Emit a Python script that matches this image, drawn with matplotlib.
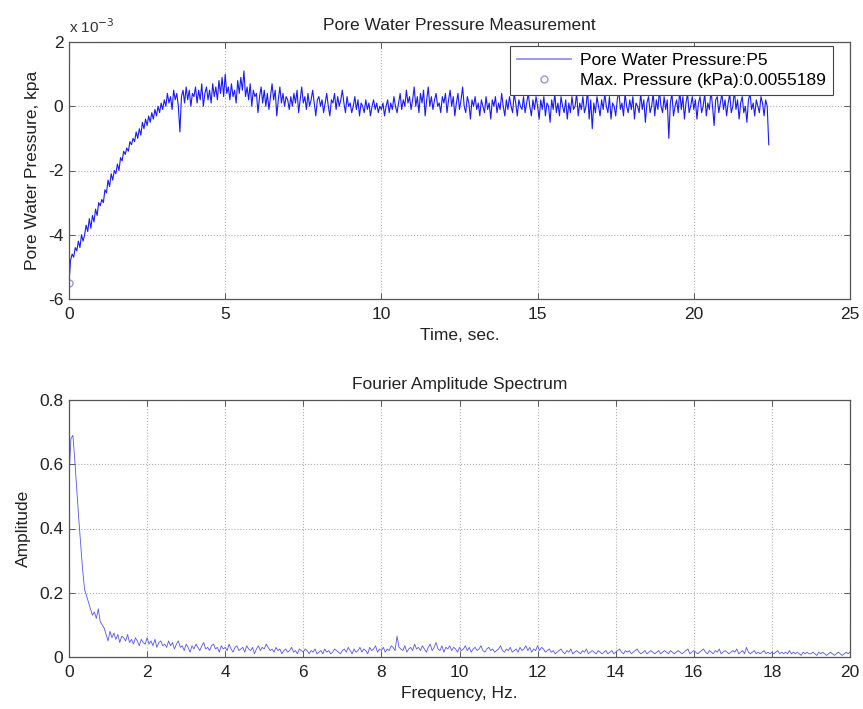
import numpy as np
import matplotlib
matplotlib.use("Agg")
import matplotlib.pyplot as plt
from matplotlib.ticker import FuncFormatter, MultipleLocator

plt.rcParams['font.family'] = ['Liberation Sans', 'DejaVu Sans']

# ---- data ----
dt = 0.05  # sample spacing, s
# pore water pressure, units of 1e-4 kPa
pressure_e4 = [
    -55, -48, -46, -47, -44, -45, -42, -44, -40, -42, -40, -37, -39, -35, -38, -34, -36, -32, -34, -30,
    -31, -29, -30, -26, -27, -23, -25, -21, -23, -20, -21, -18, -20, -16, -17, -14, -15, -13, -14, -11,
    -12, -10, -11, -8, -10, -7, -9, -5, -7, -4, -6, -3, -5, -2, -4, -1, -3, 0, -2, 1,
    -1, 2, 0, 4, 1, 3, -1, 5, 2, 4, 0, -8, 3, 5, 1, 6, 2, 5, 0, 4,
    3, 6, 1, 5, 2, 7, 0, 4, 6, 2, 5, 1, 7, 3, 6, 2, 8, 4, 9, 3,
    10, 4, 6, 2, 7, 3, 5, 1, 8, 4, 9, 5, 11, 3, 6, 2, 7, 0, 5, 3,
    4, -2, 3, 6, 1, 5, 0, 4, -1, 3, 7, 2, 5, -3, 2, 6, 1, 4, 0, 3,
    2, -1, 3, 0, 4, 1, 5, -2, 2, 6, 1, 3, -1, 4, 0, 2, 5, 1, -3, 2,
    3, 0, 2, -2, 1, 4, 0, -3, 2, 1, 4, -1, 3, 0, 2, 5, 1, -2, 3, 0,
    1, -2, 0, 3, -1, 2, -3, 1, 0, -2, 2, -1, 1, -3, 0, 2, -1, 1, -2, 0,
    -1, 1, -3, 0, 2, -2, 1, -1, 3, 0, -2, 1, 4, -1, 2, 0, 5, 1, 3, -1,
    2, 6, 0, 3, -2, 4, 1, 5, -3, 2, 6, 0, 3, -1, 2, 4, 0, 1, -2, 3,
    1, 4, -2, 2, 5, 0, 3, -3, 1, 4, -1, 2, 6, 0, -2, 3, 1, -4, 2, 0,
    3, -1, 1, -3, 2, 0, -2, 3, -1, 1, -4, 2, 0, 3, -2, 1, -1, 4, 0, -3,
    2, -1, 3, 0, -2, 4, 1, -3, 2, 0, -1, 3, -2, 1, 4, 0, -3, 2, -1, 3,
    0, -4, 2, -1, 3, -3, 1, 0, -5, 2, -1, 4, -2, 1, -3, 3, 0, -2, 2, -4,
    1, -2, 3, -1, 0, 4, -3, 1, -1, 3, -2, 0, 5, -4, 2, -7, 1, -2, 3, 0,
    -3, 2, -1, 4, 0, -2, 3, -4, 1, 0, -3, 2, 5, -1, 1, -3, 4, 0, -2, 2,
    -1, 3, -4, 1, 0, -2, 4, -1, 2, -5, 1, 3, -2, 0, 4, -3, 2, -1, 5, 0,
    -2, 3, -1, 2, -10, 1, 4, -3, 0, 2, -2, 5, -1, 3, -4, 1, 4, -2, 0, 3,
    -1, 2, -4, 1, 3, -2, 0, 4, -3, 1, -1, 5, 0, -6, 2, 3, -2, 1, 4, -1,
    2, -3, 1, 4, -2, 0, 5, -1, 2, -4, 1, 3, -2, 0, -5, 2, 4, -1, 1, -3,
    2, 0, -2, 3, 1, -3, 2, 0, -12,
]
df = 0.05  # frequency spacing, Hz
# Fourier amplitude, units of 1e-3
amplitude_e3 = [
    560, 680, 690, 610, 520, 430, 350, 270, 210, 190, 170, 150, 130, 140, 120, 150, 110, 100, 90, 70,
    50, 80, 60, 75, 55, 70, 45, 65, 60, 50, 70, 45, 55, 40, 60, 50, 35, 55, 45, 40,
    60, 40, 50, 35, 55, 30, 45, 50, 35, 40, 30, 50, 35, 45, 25, 40, 50, 30, 35, 20,
    40, 30, 15, 35, 25, 40, 30, 20, 35, 45, 25, 30, 20, 35, 40, 25, 30, 15, 35, 25,
    30, 20, 40, 25, 15, 30, 35, 20, 25, 30, 15, 35, 25, 20, 30, 10, 25, 35, 20, 30,
    25, 40, 30, 20, 25, 15, 30, 20, 25, 10, 20, 25, 15, 20, 30, 15, 20, 10, 25, 20,
    15, 25, 20, 10, 20, 15, 25, 10, 15, 20, 10, 25, 15, 20, 10, 15, 25, 20, 15, 10,
    20, 25, 15, 30, 20, 10, 25, 15, 20, 30, 15, 25, 20, 10, 30, 20, 25, 35, 15, 25,
    20, 30, 15, 25, 20, 35, 30, 20, 65, 30, 25, 20, 35, 15, 25, 30, 20, 40, 25, 30,
    20, 35, 25, 15, 30, 40, 20, 30, 45, 25, 20, 35, 15, 30, 25, 35, 20, 30, 25, 15,
    30, 20, 25, 35, 20, 30, 15, 25, 30, 20, 25, 35, 20, 15, 25, 30, 20, 25, 15, 20,
    25, 35, 20, 15, 25, 20, 30, 15, 20, 25, 15, 30, 20, 25, 35, 20, 30, 15, 25, 20,
    35, 20, 30, 25, 15, 20, 25, 15, 20, 10, 15, 20, 25, 15, 10, 20, 15, 25, 10, 15,
    20, 15, 10, 20, 15, 25, 10, 15, 20, 15, 10, 20, 15, 10, 15, 20, 10, 15, 20, 10,
    15, 20, 25, 15, 10, 20, 15, 20, 10, 15, 20, 25, 15, 10, 15, 20, 10, 15, 20, 15,
    10, 15, 20, 10, 15, 20, 15, 10, 20, 15, 10, 15, 20, 15, 10, 15, 20, 25, 10, 15,
    20, 15, 10, 15, 20, 25, 15, 10, 20, 15, 10, 20, 15, 25, 10, 15, 20, 15, 10, 15,
    20, 15, 25, 10, 15, 20, 10, 30, 15, 10, 15, 20, 10, 15, 10, 15, 20, 10, 15, 10,
    15, 10, 15, 20, 10, 15, 10, 15, 10, 20, 10, 15, 10, 15, 10, 5, 15, 10, 15, 10,
    10, 15, 10, 5, 15, 10, 15, 10, 5, 10, 15, 10, 5, 10, 15, 10, 5, 10, 15, 10,
    15,
]
series_label = "Pore Water Pressure:P5"
max_label = "Max. Pressure (kPa):0.0055189"
top_title = "Pore Water Pressure Measurement"
bot_title = "Fourier Amplitude Spectrum"

pressure = np.array(pressure_e4) * 1e-4
time = np.arange(len(pressure)) * dt
amp = np.array(amplitude_e3) * 1e-3
freq = np.arange(len(amp)) * df
imax = int(np.argmax(np.abs(pressure)))

W, H = 863, 709
fig = plt.figure(figsize=(W / 100, H / 100), dpi=100)
ax1 = fig.add_axes([69 / W, 1 - 299 / H, 781 / W, 257 / H])
ax2 = fig.add_axes([69 / W, 1 - 657 / H, 781 / W, 257 / H])

fs = 12.5
tfs = 12.5
txt = '#222222'

def style(ax):
    ax.grid(True, linestyle=':', color='#b0b0b0', linewidth=0.8)
    ax.tick_params(direction='in', top=True, right=True, labelsize=tfs,
                   length=4, width=0.6, colors='#444444', labelcolor=txt)
    ax.tick_params(axis='x', pad=6)
    ax.tick_params(axis='y', pad=4)
    for s in ax.spines.values():
        s.set_color('#555555')
        s.set_linewidth(0.9)
    ax.set_axisbelow(True)

ax1.plot(time, pressure, color='#1a1aff', linewidth=0.8, label=series_label)
ax1.plot(time[imax], pressure[imax], 'o', mfc='none', mec='#9a9ad8',
         markersize=5, linestyle='none', label=max_label)
ax1.set_xlim(0, 25)
ax1.set_ylim(-6e-3, 2e-3)
ax1.xaxis.set_major_locator(MultipleLocator(5))
ax1.yaxis.set_major_locator(MultipleLocator(2e-3))
ax1.yaxis.set_major_formatter(FuncFormatter(lambda v, p: f"{v*1e3:g}"))
ax1.text(0.0, 1.025, r"x 10$^{-3}$", transform=ax1.transAxes, fontsize=fs - 1.5,
         ha='left', va='bottom', color='#333333')
ax1.set_title(top_title, fontsize=fs, pad=9, color=txt)
ax1.set_xlabel("Time, sec.", fontsize=fs, labelpad=4, color=txt)
ax1.set_ylabel("Pore Water Pressure, kpa", fontsize=fs, labelpad=6, color=txt)
style(ax1)
leg = ax1.legend(loc='upper right', bbox_to_anchor=(833 / W, 1 - 46 / H),
                 bbox_transform=fig.transFigure, fontsize=fs, fancybox=False,
                 framealpha=1, edgecolor='#444444', borderaxespad=0,
                 handlelength=3.1, handletextpad=0.55, borderpad=0.4,
                 labelspacing=0.3)
leg.get_frame().set_linewidth(0.8)
leg.get_lines()[0].set_color('#8888ee')
leg.get_lines()[0].set_linewidth(1.2)

ax2.plot(freq, amp, color='#5555ee', linewidth=0.6)
ax2.set_xlim(0, 20)
ax2.set_ylim(0, 0.8)
ax2.xaxis.set_major_locator(MultipleLocator(2))
ax2.yaxis.set_major_locator(MultipleLocator(0.2))
ax2.yaxis.set_major_formatter(FuncFormatter(lambda v, p: f"{v:g}"))
ax2.set_title(bot_title, fontsize=fs, pad=8, color=txt)
ax2.set_xlabel("Frequency, Hz.", fontsize=fs, labelpad=4, color=txt)
ax2.set_ylabel("Amplitude", fontsize=fs, labelpad=6, color=txt)
style(ax2)

fig.savefig("out.png", dpi=100)
